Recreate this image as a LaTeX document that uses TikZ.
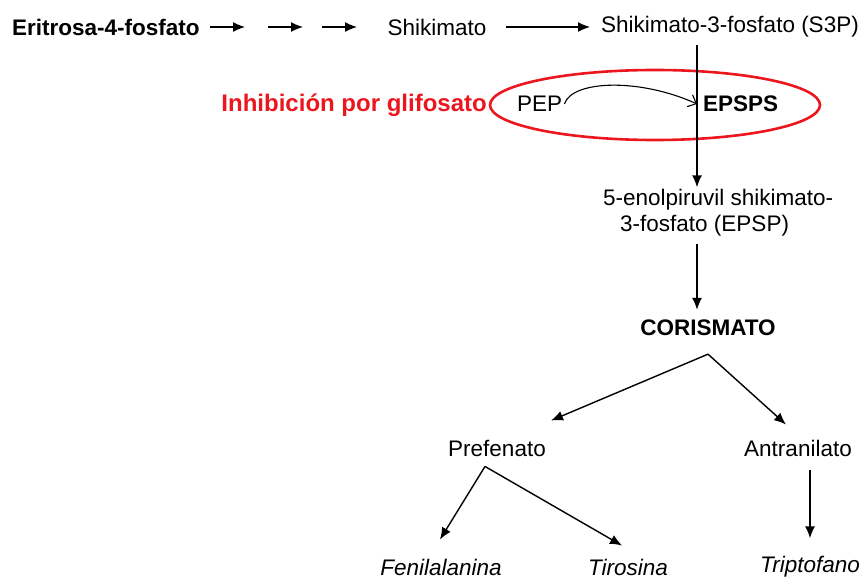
\documentclass[tikz,border=0pt]{standalone}
\usepackage{fontspec}
\setmainfont{Liberation Sans}
\usetikzlibrary{arrows.meta,calc}
\definecolor{inhibred}{RGB}{236,22,30}
\begin{document}
\begin{tikzpicture}[x=1pt,y=-1pt,
	every node/.style={font=\fontsize{22.5}{26}\selectfont,inner sep=2pt},
	bold/.style={font=\fontsize{22.5}{26}\selectfont\bfseries},
	amino/.style={font=\fontsize{22.5}{26}\selectfont\itshape},
	flow/.style={-{Latex[length=12pt,width=10pt]},line width=1.4pt}]
\useasboundingbox (0,0) rectangle (867,577);
% ruta del shikimato
\node[bold,anchor=west] (e4p) at (10,27) {Eritrosa-4-fosfato};
\node (shik) at (437,27) {Shikimato};
\node[anchor=west] (s3p) at (599,27) {Shikimato-3-fosfato (S3P)};
\foreach \a [count=\i] in {210,268,322}{
	\coordinate (paso\i) at (\a,27);
	\draw[flow] (paso\i) -- ++(35,0);
}
\draw[flow,shorten <=17pt,shorten >=9pt] (shik.east) -- (s3p.west);
% inhibicion
\draw[inhibred,line width=2.6pt] (655,105) ellipse [x radius=165,y radius=35];
\node[text=inhibred,anchor=east,font=\fontsize{24}{28}\selectfont\bfseries] (glif) at (489,105) {Inhibición por glifosato};
\node[anchor=west] (pep) at (515,104) {PEP};
\node[bold,anchor=west,inner xsep=6pt] (epsps) at (697,104) {EPSPS};
\draw[-{Straight Barb[length=7pt,width=13pt]},line width=1.1pt]
	(pep.east) .. controls (572,80) and (640,78) .. (epsps.west);
\node[anchor=west,align=left] (epsp) at (601,213) {5-enolpiruvil shikimato-\\\hspace*{17pt}3-fosfato (EPSP)};
\draw[flow,shorten <=5pt] (s3p.south -| epsps.west) -- (epsp.north -| epsps.west);
\node[bold] (cor) at (708,328) {CORISMATO};
\draw[flow,shorten <=5pt,shorten >=8pt] (epsp.south -| epsps.west) -- (cor.north -| epsps.west);
% aminoacidos aromaticos
\node (pref) at (497,448) {Prefenato};
\node (anti) at (798,448) {Antranilato};
\draw[flow] ($(cor.south)+(0,16)$) -- ($(pref.north)+(54,-17)$);
\draw[flow] ($(cor.south)+(0,16)$) -- ($(anti.north)+(-12,-13)$);
\node[amino] (fen) at (441,567) {Fenilalanina};
\node[amino] (tir) at (628,567) {Tirosina};
\node[amino] (trp) at (810,567) {Triptofano};
\draw[flow] ($(pref.south)+(-12,8)$) -- ($(fen.north)+(-1,-17)$);
\draw[flow] ($(pref.south)+(-12,8)$) -- ($(tir.north)+(-6,-11)$);
\draw[flow] ($(anti.south -| trp.north)+(0,12)$) -- ($(trp.north)+(0,-16)$);
\end{tikzpicture}
\end{document}
